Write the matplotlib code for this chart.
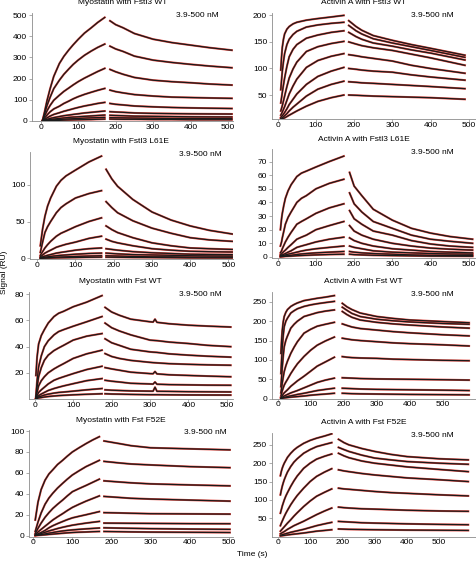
import matplotlib
matplotlib.use("Agg")
import matplotlib.pyplot as plt

plt.rcParams["font.family"] = ["Liberation Sans", "DejaVu Sans"]

# ---- Myostatin with Fstl3 WT ----
p1_ta = [5, 10, 17, 25, 35, 50, 62, 75, 87, 100, 117, 135, 152, 171]
p1_assoc = [
    [0, 38, 95, 150, 210, 271, 305, 335, 360, 385, 415, 440, 465, 489],
    [0, 30, 72, 110, 152, 192, 220, 245, 267, 287, 310, 330, 347, 363],
    [0, 20, 47, 72, 97, 121, 139, 155, 170, 185, 202, 218, 233, 248],
    [0, 12, 27, 42, 56, 69, 82, 93, 104, 114, 125, 135, 144, 153],
    [0, 6, 14, 22, 30, 38, 45, 51, 57, 63, 70, 76, 82, 87],
    [0, 3, 7, 11, 15, 20, 24, 27, 30, 33, 37, 40, 43, 46],
    [0, 2, 4, 6, 8.5, 11, 13.5, 16, 17.5, 19, 21, 23, 25, 27],
    [0, 1, 2, 3, 4.5, 6, 7.5, 9, 10, 11, 12.5, 14, 15, 16],
    [0, 0, 0.5, 1, 1.5, 2, 3, 4, 4.5, 5, 5.5, 6, 7, 8],
]
p1_td = [185, 200, 220, 250, 300, 350, 400, 450, 510]
p1_dissoc = [
    [473, 455, 440, 413, 386, 370, 358, 346, 334],
    [353, 340, 328, 306, 287, 276, 267, 259, 251],
    [243, 232, 220, 205, 192, 185, 180, 174, 169],
    [145, 138, 132, 124, 117, 112, 110, 108, 106],
    [82, 78, 75, 70, 66, 63, 61, 59.5, 58],
    [43, 41.5, 40, 37, 35, 34, 33, 32.5, 32],
    [26, 25, 24, 22, 21, 20, 19, 18.5, 18],
    [15, 14.5, 14, 13, 12, 11, 11, 10.5, 10],
    [8, 7.5, 7, 7, 6, 6, 5, 5, 5],
]

# ---- Activin A with Fstl3 WT ----
p2_ta = [8, 10, 12, 15, 18, 24, 30, 40, 50, 75, 105, 140, 173]
p2_assoc = [
    [97, 122, 140, 155, 165, 174, 179, 184, 187, 191, 194, 197, 200],
    [60, 78, 95, 113, 128, 145, 155, 164, 170, 178, 182, 185, 187],
    [35, 45, 55, 69, 82, 104, 122, 136, 145, 157, 163, 168, 171],
    [20, 25, 30, 39, 48, 66, 82, 99, 112, 132, 141, 147, 151],
    [12, 15, 18, 23, 28, 40, 52, 67, 80, 102, 115, 123, 128],
    [8, 9.5, 11, 14, 17, 24, 32, 42, 52, 70, 85, 95, 102],
    [6, 6.5, 7, 9, 11, 15, 20, 27, 33, 48, 61, 70, 76],
    [5, 5.2, 5.5, 6.2, 7, 9.5, 12, 16, 20, 29, 38, 45, 50],
]
p2_td = [186, 205, 220, 250, 300, 350, 400, 490]
p2_dissoc = [
    [190, 179, 172, 162, 153, 145, 138, 125],
    [181, 171, 165, 156, 148, 141, 134, 121],
    [168, 160, 155, 148, 142, 135, 129, 116],
    [150, 146, 143, 139, 134, 127, 120, 106],
    [126, 124, 122, 119, 114, 106, 100, 91],
    [100, 98.5, 97, 95, 93, 88, 84, 78],
    [75, 74, 73, 72, 70, 68, 66, 62],
    [50, 49.5, 49, 48, 47, 46, 45, 42],
]

# ---- Myostatin with Fstl3 L61E ----
p3_ta = [8, 14, 20, 27, 35, 50, 62, 75, 100, 135, 168]
p3_assoc = [
    [17, 40, 57, 71, 82, 98, 106, 112, 120, 131, 139],
    [8, 22, 35, 43, 50, 62, 69, 74, 82, 88, 92],
    [4, 9, 14, 18.5, 23, 30, 34, 37, 43, 50, 55],
    [2, 4.5, 7, 9, 11, 15, 17, 19, 22, 27, 30],
    [1, 2, 3, 4, 5, 7, 8, 9, 11, 13, 14],
    [0.5, 1, 1.5, 2, 2.5, 3.5, 4, 4.5, 5.5, 6.5, 7],
    [0, 0.3, 0.5, 0.8, 1, 1.5, 1.8, 2, 2.5, 3, 3.5],
    [0, 0.1, 0.2, 0.3, 0.4, 0.6, 0.7, 0.8, 1, 1.3, 1.5],
]
p3_td = [180, 195, 210, 250, 300, 350, 400, 450, 510]
p3_dissoc = [
    [121, 108, 98, 80, 63, 52, 44, 38, 33],
    [77, 69, 62, 51, 41, 34, 28, 25, 23],
    [44, 39, 35, 28, 21, 17, 14, 13, 12],
    [26, 23, 21, 17, 13, 11, 9.5, 9, 8.5],
    [13, 12, 11, 9, 7.5, 6.5, 5.5, 5.2, 5],
    [7, 6.5, 6, 5, 4.5, 4, 3.5, 3.2, 3],
    [3.5, 3.2, 3, 2.5, 2, 2, 1.5, 1.5, 1.5],
    [1.5, 1.4, 1.3, 1.1, 1, 0.8, 0.6, 0.55, 0.5],
]

# ---- Activin A with Fstl3 L61E ----
p4_ta = [7, 10, 12, 16, 20, 27, 35, 50, 62, 75, 100, 135, 173]
p4_assoc = [
    [20, 28, 32, 38, 43, 48.5, 53, 59, 61.5, 63, 66, 70, 74],
    [8, 11, 14, 19, 24, 29, 33, 40, 43, 45, 50, 54, 57],
    [3, 4.5, 6, 8.5, 11, 14.5, 18, 24, 26, 28, 32, 36, 39],
    [1.5, 2.2, 3, 4, 5, 7, 9, 13, 14.5, 16, 20, 23, 26],
    [1, 1.2, 1.5, 2, 2.5, 3.5, 4.5, 7, 8, 9, 11, 13, 14.5],
    [0.5, 0.7, 1, 1.2, 1.5, 2, 2.5, 3.5, 4.3, 5, 6, 7, 8],
    [0.3, 0.4, 0.5, 0.6, 0.8, 1, 1.2, 1.8, 2.2, 2.5, 3, 3.5, 4],
    [0.1, 0.15, 0.2, 0.3, 0.4, 0.5, 0.6, 0.9, 1.05, 1.2, 1.5, 1.8, 2],
]
p4_td = [188, 200, 220, 250, 300, 350, 400, 450, 510]
p4_dissoc = [
    [62, 52, 45, 35, 27, 21, 17.5, 15, 13],
    [47, 39, 33, 26, 21, 16, 13, 11.5, 10],
    [34, 28, 24, 19, 16, 12, 9.5, 8, 7],
    [23, 19, 16, 13, 10, 8, 6.5, 5.7, 5],
    [14, 12, 10, 8, 6, 5, 4, 3.5, 3],
    [8, 7, 6, 4.5, 3.5, 3, 2.5, 2.2, 2],
    [4, 3.5, 3, 2.5, 2, 1.5, 1.2, 1.1, 1],
    [2, 1.7, 1.5, 1.2, 1, 0.8, 0.6, 0.55, 0.5],
]

# ---- Myostatin with Fst WT ----
p5_ta = [3, 6, 10, 17, 25, 35, 50, 62, 75, 100, 135, 175]
p5_assoc = [
    [18, 32, 42, 48.5, 53, 58, 63, 65.5, 67, 70.5, 74, 79],
    [2, 14, 24.5, 33, 40, 44.5, 49, 51.5, 53, 55.6, 59, 63],
    [1, 9, 17, 24, 29.6, 33.5, 37, 39, 41, 45, 48, 50],
    [1, 5, 10, 14, 17, 20, 23, 25, 27, 31, 34.5, 37.3],
    [0.5, 2.5, 5, 7, 9, 11.5, 14.3, 15.7, 17, 19.4, 22.5, 25],
    [0.3, 1.2, 2.5, 3.8, 5, 6.5, 8, 9, 10, 11.7, 14, 15.6],
    [0.2, 0.8, 1.5, 2.2, 3, 3.7, 4.5, 5, 5.3, 6, 7, 8],
    [0.1, 0.4, 0.8, 1.1, 1.5, 1.9, 2.3, 2.6, 2.8, 3.2, 3.6, 4],
]
p5_td = [183, 200, 220, 250, 300, 308, 313, 318, 350, 400, 450, 510]
p5_dissoc = [
    [70, 66.5, 64, 61, 59, 58.8, 61, 58.6, 57.5, 56.4, 55.7, 55],
    [58, 54.5, 52, 49, 45, 44.8, 44.7, 44.6, 43.5, 42.4, 41, 40],
    [46, 43, 41, 38, 36, 35.8, 35.7, 35.6, 34.5, 33.5, 32.7, 32],
    [34.7, 32.5, 31, 29.5, 28, 27.8, 27.7, 27.6, 27, 26.5, 26.1, 25.8],
    [24, 23, 22, 20.5, 19.4, 19.3, 21, 19.2, 18.5, 18, 17.5, 17],
    [14.3, 13.6, 13, 12, 11.5, 11.4, 13, 11.3, 11, 10.8, 10.6, 10.5],
    [7, 6.7, 6.5, 6.2, 6, 6, 9, 5.9, 5.8, 5.6, 5.5, 5.4],
    [4, 3.8, 3.7, 3.5, 3.3, 3.3, 3.3, 3.3, 3.2, 3.1, 3.05, 3],
]

# ---- Activin A with Fst WT ----
p6_ta = [10, 12, 14, 17, 20, 25, 30, 40, 50, 60, 80, 100, 120, 145, 172]
p6_assoc = [
    [117, 150, 175, 198, 212, 223, 230, 238, 243, 247, 253, 256, 259, 262, 266],
    [65, 100, 130, 163, 186, 200, 208, 221, 227, 232, 238, 242, 245, 248, 251],
    [31, 55, 80, 110, 134, 151, 162, 182, 192, 200, 212, 217, 222, 226, 229],
    [15, 27, 40, 56, 70, 85, 97, 117, 133, 147, 169, 179, 187, 192, 197],
    [7, 13, 20, 28, 35, 43, 50, 65, 78, 90, 109, 125, 138, 149, 159],
    [3, 5.5, 8, 12, 15, 19, 23, 32, 39, 46, 58, 71, 84, 95, 107],
    [1.5, 2.7, 4, 5.5, 7, 9, 11, 15, 18, 21, 28, 35, 42, 48, 53],
    [0.8, 1.4, 2, 2.8, 3.5, 4.5, 5.5, 7.5, 9, 11, 14, 17.5, 21, 24, 27],
    [0.4, 0.7, 1, 1.5, 2, 2.5, 3, 4, 4.8, 5.5, 7, 9, 10.5, 12, 14],
]
p6_td = [196, 210, 225, 250, 300, 350, 400, 500, 580]
p6_dissoc = [
    [246, 237, 230, 221, 212, 207, 203, 199, 196],
    [236, 228, 220, 212, 205, 201, 198, 194, 192],
    [225, 217, 210, 203, 197, 193, 190, 185, 182],
    [193, 189, 185, 181, 177, 173, 170, 165, 162],
    [156, 154, 152, 150, 147, 144, 142, 139, 136],
    [108.6, 107, 106, 105, 104, 102, 101, 99, 98],
    [54, 53.5, 53, 52, 51, 50.5, 50, 49, 48],
    [27, 26.5, 26, 25, 24, 23.5, 23, 22, 21],
    [14, 13.5, 13, 12.5, 12, 11.5, 11, 10.5, 10],
]

# ---- Myostatin with Fst F52E ----
p7_ta = [5, 12, 20, 30, 40, 50, 62, 75, 87, 100, 117, 135, 152, 169]
p7_assoc = [
    [15, 32, 44, 53, 59, 63, 68, 72, 76, 80, 84, 88, 91.5, 94.6],
    [4, 13, 21.6, 30, 36, 40.6, 45.5, 50, 54, 58, 62, 66, 69, 72],
    [2, 7, 12, 17.5, 22, 26, 30, 34, 38, 42, 45, 48, 51, 54],
    [1, 3.5, 6, 9, 12, 15, 18, 21, 24, 27, 30, 33, 35.5, 38],
    [0.5, 1.8, 3, 5, 7.5, 9.5, 11.5, 13.5, 15.3, 17, 18.5, 20, 21.5, 23],
    [0.3, 1.1, 2, 3.2, 4.5, 5.5, 6.8, 8, 9, 10, 11, 12, 12.8, 13.6],
    [0.2, 0.6, 1, 1.7, 2.4, 3, 3.8, 4.5, 5, 5.5, 6, 6.5, 6.9, 7.3],
    [0.1, 0.3, 0.5, 0.8, 1.2, 1.5, 1.9, 2.3, 2.7, 3, 3.3, 3.5, 3.8, 4],
]
p7_td = [181, 220, 250, 300, 400, 503]
p7_dissoc = [
    [90.5, 88, 86, 84, 83, 82],
    [71, 69.5, 68.5, 67.6, 66, 65],
    [52.4, 51.3, 50.5, 49.5, 48.5, 47.6],
    [37.5, 36.5, 35.7, 35, 34, 33],
    [22, 21.7, 21.4, 21, 20.8, 20.6],
    [12, 11.9, 11.8, 11.7, 11.5, 11.4],
    [7.5, 7.2, 7, 6.7, 6.3, 6],
    [4, 3.8, 3.6, 3.4, 3.2, 3],
]

# ---- Activin A with Fst F52E ----
p8_ta = [8, 11, 14, 17, 20, 25, 30, 40, 50, 60, 80, 100, 120, 145, 167]
p8_assoc = [
    [166, 178, 187, 194, 200, 208, 216, 227, 236, 243, 254, 262, 268, 274, 280],
    [114, 127, 138, 147, 155, 166, 176, 191, 203, 212, 227, 237, 245, 251, 256],
    [64, 74, 84, 92, 100, 111, 120, 137, 152, 165, 186, 200, 211, 219, 225],
    [30, 37, 43, 49, 55, 64, 72, 87, 100, 112, 132, 150, 164, 176, 185],
    [15, 18, 21, 24, 27, 32, 37, 46, 56, 65, 82, 97, 110, 121, 130],
    [8, 9.5, 11, 12.5, 14, 17, 20, 25, 30, 34, 42, 51, 60, 70, 78],
    [4, 4.8, 5.5, 6.3, 7, 8.3, 9.5, 12, 14, 16, 20, 25, 30, 35, 39],
    [2, 2.4, 2.8, 3.2, 3.5, 4.2, 4.8, 6, 7, 8, 10, 12.5, 15, 17, 19],
]
p8_td = [188, 205, 220, 260, 300, 350, 400, 500, 590]
p8_dissoc = [
    [265, 256, 250, 240, 232, 224, 218, 212, 209],
    [243, 237, 232, 222, 214, 209, 204.5, 200, 197],
    [227, 220, 215, 206, 200, 195, 190, 183, 177],
    [182, 179, 177, 172, 168, 164, 160, 155, 150],
    [132, 130, 129, 126, 123, 120, 118, 114, 111],
    [80.5, 79, 78, 76, 75, 73.5, 72, 70, 69],
    [41.6, 40.8, 40, 38, 37, 36, 35, 33.5, 32.6],
    [21, 20.5, 20, 19.5, 19, 18.5, 18, 17.5, 17],
]

titles = [
    "Myostatin with Fstl3 WT", "Activin A with Fstl3 WT",
    "Myostatin with Fstl3 L61E", "Activin A with Fstl3 L61E",
    "Myostatin with Fst WT", "Activin A with Fst WT",
    "Myostatin with Fst F52E", "Activin A with Fst F52E",
]
conc_label = "3.9-500 nM"

# panel boxes in pixels (left, top, right, bottom)
boxes = [
    (32, 13, 233, 121), (272, 13, 476, 119.3),
    (30, 151.7, 233, 259), (272, 149.3, 476, 258.3),
    (29, 291.7, 233, 399), (272, 291.7, 476, 398.7),
    (29, 430, 233, 536.7), (272, 432.7, 476, 536.7),
]
xlims = [(-23, 513), (-15, 519), (-19, 512), (-15, 519),
         (-15, 516), (-17, 601), (-11, 511), (-18, 614)]
ylims = [(-1, 510), (4.3, 204.5), (-1, 145), (-1, 79),
         (0, 82), (0, 276), (-1, 101), (0, 283)]
yticks = [range(0, 501, 100), range(50, 201, 50), range(0, 101, 50),
          range(0, 71, 10), range(20, 81, 20), range(0, 251, 50),
          range(0, 101, 20), range(50, 251, 50)]
label_x = [0.93, 0.89, 0.945, 0.89, 0.945, 0.89, 0.97, 0.89]

panels = [
    (p1_ta, p1_assoc, p1_td, p1_dissoc),
    (p2_ta, p2_assoc, p2_td, p2_dissoc),
    (p3_ta, p3_assoc, p3_td, p3_dissoc),
    (p4_ta, p4_assoc, p4_td, p4_dissoc),
    (p5_ta, p5_assoc, p5_td, p5_dissoc),
    (p6_ta, p6_assoc, p6_td, p6_dissoc),
    (p7_ta, p7_assoc, p7_td, p7_dissoc),
    (p8_ta, p8_assoc, p8_td, p8_dissoc),
]

W, H = 477, 561
fig = plt.figure(figsize=(W / 100, H / 100), dpi=100)

for i, (ta, assoc, td, dissoc) in enumerate(panels):
    l, t, r, b = boxes[i]
    ax = fig.add_axes([l / W, 1 - b / H, (r - l) / W, (b - t) / H])
    # red fit underneath, black measured trace on top
    for curve in assoc:
        ax.plot(ta, curve, color="#e0453d", lw=1.5)
    for curve in dissoc:
        ax.plot(td, curve, color="#e0453d", lw=1.5)
    for curve in assoc:
        ax.plot(ta, curve, color="#1a1a1a", lw=0.9)
    for curve in dissoc:
        ax.plot(td, curve, color="#1a1a1a", lw=0.9)

    ax.set_xlim(*xlims[i])
    ax.set_ylim(*ylims[i])
    ax.set_yticks(list(yticks[i]))
    ax.set_xticks(range(0, 501, 100))
    for side in ["top", "right"]:
        ax.spines[side].set_visible(False)
    for side in ["left", "bottom"]:
        ax.spines[side].set_color("0.55")
        ax.spines[side].set_linewidth(0.6)
    ax.tick_params(labelsize=6, length=2, width=0.5, color="0.55")
    ax.tick_params(axis="y", pad=1.5)
    ax.tick_params(axis="x", pad=0)
    ax.patch.set_alpha(0)

    ax.text(0.45, 1 + 10 / (b - t), titles[i], transform=ax.transAxes,
            ha="center", va="center", fontsize=6)
    ax.text(label_x[i], 0.975, conc_label, transform=ax.transAxes,
            ha="right", va="center", fontsize=6)

fig.text(5 / W, 1 - 272 / H, "Signal (RU)", rotation=90, ha="center", va="center", fontsize=6)
fig.text(252 / W, 1 - 554 / H, "Time (s)", ha="center", va="center", fontsize=6)

fig.savefig("out.png", dpi=100)
